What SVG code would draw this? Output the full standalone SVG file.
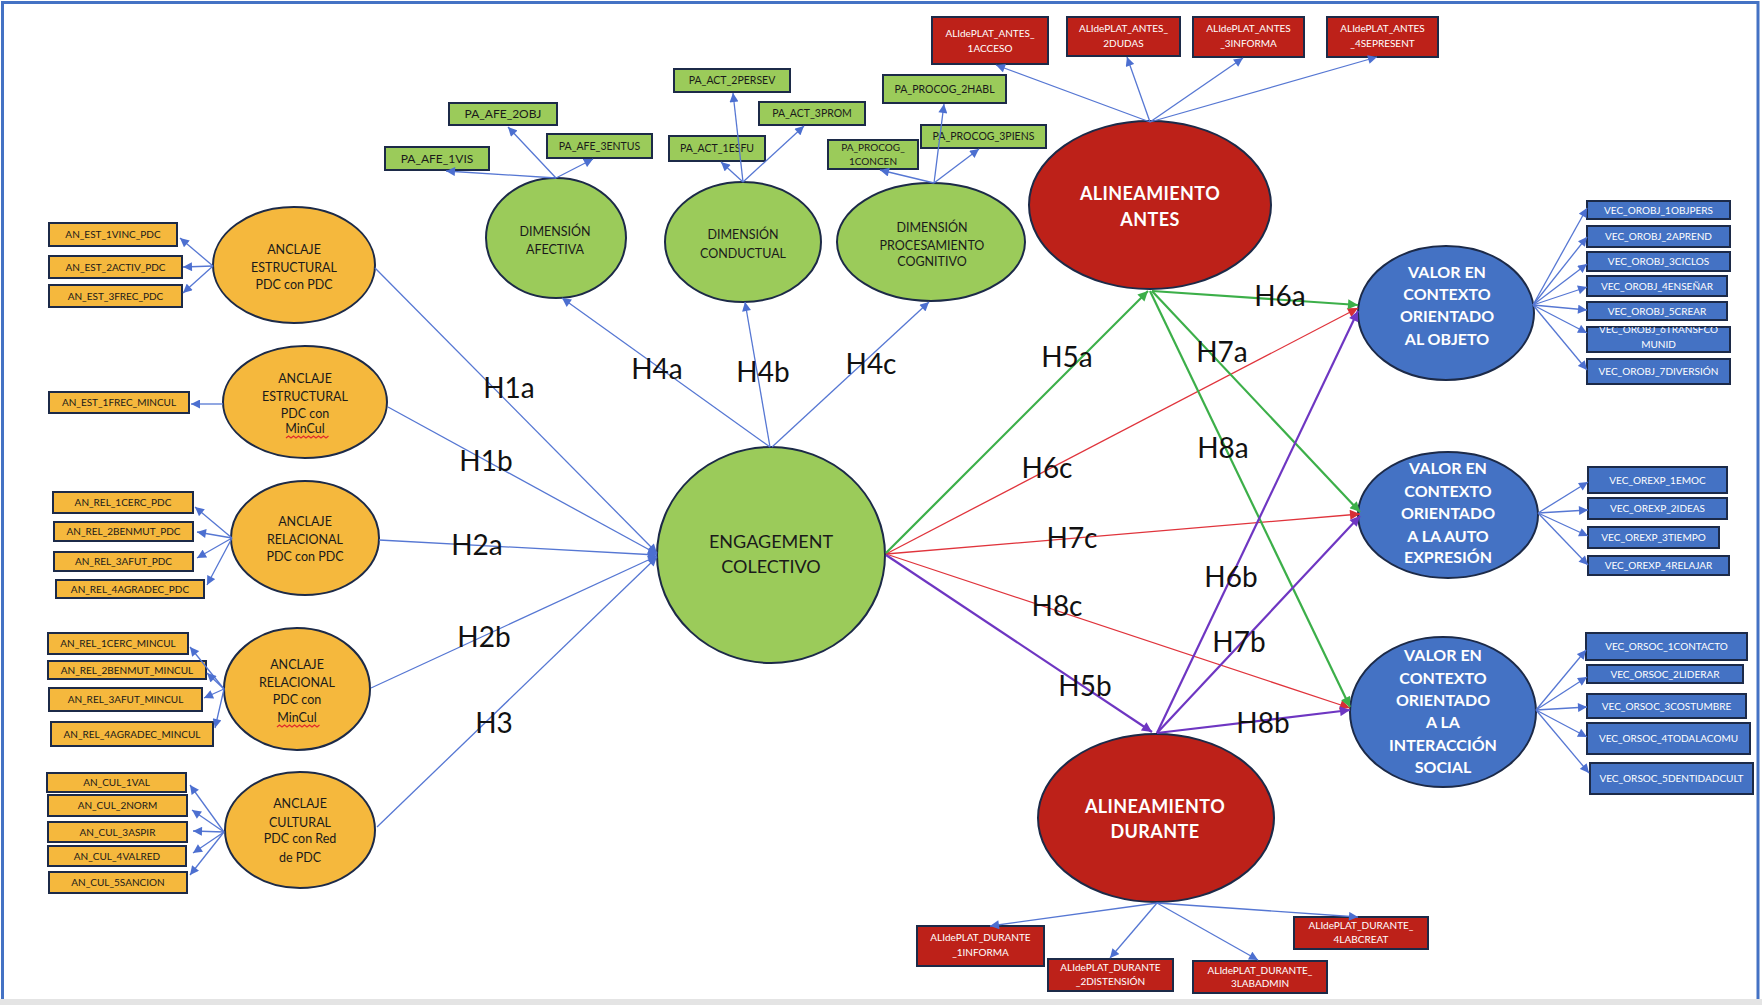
<svg xmlns="http://www.w3.org/2000/svg" width="1762" height="1005" viewBox="0 0 1762 1005">
<style>
.ob{fill:#F5B83D;stroke:#1C2A48;stroke-width:2}
.gb{fill:#9BCB5A;stroke:#1C2A48;stroke-width:2}
.rb{fill:#BD2119;stroke:#1C2A48;stroke-width:2}
.bb{fill:#4472C4;stroke:#1C2A48;stroke-width:2}
text{font-family:Lato,"Liberation Sans",sans-serif;text-anchor:middle}
.dk{fill:#1A1A1A}
.wt{fill:#FFFFFF}
.s10{font-size:10px}
.s105{font-size:10.5px}
.s12{font-size:12px}
.s125{font-size:12.5px}
.big{font-size:28px;fill:#111}
.alin{font-size:18px;font-weight:bold;fill:#fff;letter-spacing:0.4px}
.val{font-size:16px;font-weight:bold;fill:#fff}
.lb{stroke:#5677D3;stroke-width:1.3;fill:none}
.lg{stroke:#3CAF49;stroke-width:2.2;fill:none}
.lr{stroke:#E0343C;stroke-width:1.3;fill:none}
.lp{stroke:#6E36C2;stroke-width:2.2;fill:none}
.sq{stroke:#E02B2B;stroke-width:1.2;fill:none}
</style>
<defs>
<marker id="ab" viewBox="0 0 10 10" refX="10" refY="5" markerWidth="10" markerHeight="9" markerUnits="userSpaceOnUse" orient="auto"><path d="M0,0 L10,5 L0,10 z" fill="#4C6FD0"/></marker>
<marker id="ag" viewBox="0 0 10 10" refX="10" refY="5" markerWidth="12" markerHeight="10" markerUnits="userSpaceOnUse" orient="auto"><path d="M0,0 L10,5 L0,10 z" fill="#3CAF49"/></marker>
<marker id="ar" viewBox="0 0 10 10" refX="10" refY="5" markerWidth="12" markerHeight="10" markerUnits="userSpaceOnUse" orient="auto"><path d="M0,0 L10,5 L0,10 z" fill="#D62E36"/></marker>
<marker id="ap" viewBox="0 0 10 10" refX="10" refY="5" markerWidth="12" markerHeight="10" markerUnits="userSpaceOnUse" orient="auto"><path d="M0,0 L10,5 L0,10 z" fill="#6E36C2"/></marker>
<clipPath id="c6"><rect x="1587" y="327" width="143" height="25"/></clipPath>
</defs>
<rect x="0" y="0" width="1762" height="1005" fill="#FFFFFF"/>
<path d="M2.5,1000 V2.5 H1758 V1000" fill="none" stroke="#4472C4" stroke-width="3"/>
<rect x="0" y="999" width="1762" height="6" fill="#E4E4E4"/>

<!-- Anclaje nodes -->
<g id="anclaje-est-pdc">
<ellipse class="ob" cx="294" cy="265" rx="81" ry="58"/>
<text class="dk s125" x="294" y="253.5">ANCLAJE</text>
<text class="dk s125" x="294" y="271.5">ESTRUCTURAL</text>
<text class="dk s125" x="294" y="288.5">PDC con PDC</text>
</g>
<g id="anclaje-est-mincul">
<ellipse class="ob" cx="305" cy="402" rx="82" ry="56"/>
<text class="dk s125" x="305" y="382.5">ANCLAJE</text>
<text class="dk s125" x="305" y="400.5">ESTRUCTURAL</text>
<text class="dk s125" x="305" y="417.5">PDC con</text>
<text class="dk s125" x="305" y="433">MinCul</text>
<path class="sq" d="M286,438 l2.5,-2 l2.5,2 l2.5,-2 l2.5,2 l2.5,-2 l2.5,2 l2.5,-2 l2.5,2 l2.5,-2 l2.5,2 l2.5,-2 l2.5,2 l2.5,-2 l2.5,2 l2.5,-2 l2.5,2 l2.5,-2"/>
</g>
<g id="anclaje-rel-pdc">
<ellipse class="ob" cx="305" cy="538" rx="74" ry="57"/>
<text class="dk s125" x="305" y="525.5">ANCLAJE</text>
<text class="dk s125" x="305" y="543.5">RELACIONAL</text>
<text class="dk s125" x="305" y="560.5">PDC con PDC</text>
</g>
<g id="anclaje-rel-mincul">
<ellipse class="ob" cx="297" cy="689" rx="73" ry="61"/>
<text class="dk s125" x="297" y="668.5">ANCLAJE</text>
<text class="dk s125" x="297" y="686.5">RELACIONAL</text>
<text class="dk s125" x="297" y="703.5">PDC con</text>
<text class="dk s125" x="297" y="721.5">MinCul</text>
<path class="sq" d="M277,727 l2.5,-2 l2.5,2 l2.5,-2 l2.5,2 l2.5,-2 l2.5,2 l2.5,-2 l2.5,2 l2.5,-2 l2.5,2 l2.5,-2 l2.5,2 l2.5,-2 l2.5,2 l2.5,-2 l2.5,2 l2.5,-2"/>
</g>
<g id="anclaje-cultural">
<ellipse class="ob" cx="300" cy="830" rx="75" ry="58"/>
<text class="dk s125" x="300" y="807.5">ANCLAJE</text>
<text class="dk s125" x="300" y="826.5">CULTURAL</text>
<text class="dk s125" x="300" y="842.5">PDC con Red</text>
<text class="dk s125" x="300" y="861.5">de PDC</text>
</g>

<!-- Orange indicator boxes -->
<g id="an-est-1vinc-pdc"><rect class="ob" x="49" y="223" width="128" height="23"/><text class="dk s10" x="113" y="238">AN_EST_1VINC_PDC</text></g>
<g id="an-est-2activ-pdc"><rect class="ob" x="49" y="256" width="133" height="22"/><text class="dk s10" x="115.5" y="270.5">AN_EST_2ACTIV_PDC</text></g>
<g id="an-est-3frec-pdc"><rect class="ob" x="49" y="285" width="133" height="22"/><text class="dk s10" x="115.5" y="299.5">AN_EST_3FREC_PDC</text></g>
<g id="an-est-1frec-mincul"><rect class="ob" x="49" y="392" width="140" height="21"/><text class="dk s10" x="119" y="406">AN_EST_1FREC_MINCUL</text></g>
<g id="an-rel-1cerc-pdc"><rect class="ob" x="53" y="492" width="140" height="21"/><text class="dk s10" x="123" y="506">AN_REL_1CERC_PDC</text></g>
<g id="an-rel-2benmut-pdc"><rect class="ob" x="54" y="522" width="139" height="19"/><text class="dk s10" x="123.5" y="535">AN_REL_2BENMUT_PDC</text></g>
<g id="an-rel-3afut-pdc"><rect class="ob" x="54" y="552" width="139" height="19"/><text class="dk s10" x="123.5" y="565">AN_REL_3AFUT_PDC</text></g>
<g id="an-rel-4agradec-pdc"><rect class="ob" x="56" y="580" width="148" height="18"/><text class="dk s10" x="130" y="592.5">AN_REL_4AGRADEC_PDC</text></g>
<g id="an-rel-1cerc-mincul"><rect class="ob" x="48" y="633" width="140" height="21"/><text class="dk s10" x="118" y="647">AN_REL_1CERC_MINCUL</text></g>
<g id="an-rel-2benmut-mincul"><rect class="ob" x="48" y="661" width="158" height="18"/><text class="dk s10" x="127" y="673.5">AN_REL_2BENMUT_MINCUL</text></g>
<g id="an-rel-3afut-mincul"><rect class="ob" x="49" y="688" width="153" height="23"/><text class="dk s10" x="125.5" y="703">AN_REL_3AFUT_MINCUL</text></g>
<g id="an-rel-4agradec-mincul"><rect class="ob" x="51" y="722" width="162" height="24"/><text class="dk s10" x="132" y="737.5">AN_REL_4AGRADEC_MINCUL</text></g>
<g id="an-cul-1val"><rect class="ob" x="47" y="773" width="139" height="19"/><text class="dk s10" x="116.5" y="786">AN_CUL_1VAL</text></g>
<g id="an-cul-2norm"><rect class="ob" x="48" y="795" width="139" height="21"/><text class="dk s10" x="117.5" y="809">AN_CUL_2NORM</text></g>
<g id="an-cul-3aspir"><rect class="ob" x="48" y="822" width="139" height="20"/><text class="dk s10" x="117.5" y="835.5">AN_CUL_3ASPIR</text></g>
<g id="an-cul-4valred"><rect class="ob" x="48" y="846" width="138" height="20"/><text class="dk s10" x="117" y="859.5">AN_CUL_4VALRED</text></g>
<g id="an-cul-5sancion"><rect class="ob" x="49" y="872" width="138" height="21"/><text class="dk s10" x="118" y="886">AN_CUL_5SANCION</text></g>

<!-- Dimension nodes -->
<g id="dim-afectiva">
<ellipse class="gb" cx="556" cy="238" rx="70" ry="60"/>
<text class="dk s125" x="555" y="235.5">DIMENSIÓN</text>
<text class="dk s125" x="555" y="253.5">AFECTIVA</text>
</g>
<g id="dim-conductual">
<ellipse class="gb" cx="743" cy="242" rx="78" ry="60"/>
<text class="dk s125" x="743" y="238.5">DIMENSIÓN</text>
<text class="dk s125" x="743" y="257.5">CONDUCTUAL</text>
</g>
<g id="dim-procog">
<ellipse class="gb" cx="931" cy="242" rx="94" ry="59"/>
<text class="dk s125" x="932" y="231.5">DIMENSIÓN</text>
<text class="dk s125" x="932" y="249.5">PROCESAMIENTO</text>
<text class="dk s125" x="932" y="265.5">COGNITIVO</text>
</g>

<!-- Green indicator boxes -->
<g id="pa-afe-1vis"><rect class="gb" x="385" y="147" width="104" height="23"/><text class="dk s12" x="437" y="162.5">PA_AFE_1VIS</text></g>
<g id="pa-afe-2obj"><rect class="gb" x="449" y="103" width="108" height="22"/><text class="dk s12" x="503" y="118">PA_AFE_2OBJ</text></g>
<g id="pa-afe-3entus"><rect class="gb" x="547" y="134" width="105" height="24"/><text class="dk s105" x="599.5" y="149.5">PA_AFE_3ENTUS</text></g>
<g id="pa-act-2persev"><rect class="gb" x="674" y="69" width="116" height="23"/><text class="dk s105" x="732" y="84">PA_ACT_2PERSEV</text></g>
<g id="pa-act-3prom"><rect class="gb" x="759" y="102" width="106" height="23"/><text class="dk s105" x="812" y="117">PA_ACT_3PROM</text></g>
<g id="pa-act-1esfu"><rect class="gb" x="669" y="136" width="96" height="25"/><text class="dk s105" x="717" y="152">PA_ACT_1ESFU</text></g>
<g id="pa-procog-2habl"><rect class="gb" x="883" y="75" width="123" height="28"/><text class="dk s105" x="944.5" y="92.5">PA_PROCOG_2HABL</text></g>
<g id="pa-procog-3piens"><rect class="gb" x="921" y="125" width="125" height="23"/><text class="dk s105" x="983.5" y="140">PA_PROCOG_3PIENS</text></g>
<g id="pa-procog-1concen"><rect class="gb" x="828" y="140" width="90" height="29"/><text class="dk s10" x="873" y="151">PA_PROCOG_</text><text class="dk s10" x="873" y="165">1CONCEN</text></g>

<!-- Engagement -->
<g id="engagement">
<ellipse class="gb" cx="771" cy="555" rx="114" ry="108"/>
<text class="dk" style="font-size:18px" x="771" y="548">ENGAGEMENT</text>
<text class="dk" style="font-size:18px" x="771" y="573">COLECTIVO</text>
</g>

<!-- Alineamiento -->
<g id="alineamiento-antes">
<ellipse class="rb" cx="1150" cy="205" rx="121" ry="84"/>
<text class="alin" x="1150" y="199.5">ALINEAMIENTO</text>
<text class="alin" x="1150" y="225.5">ANTES</text>
</g>
<g id="alineamiento-durante">
<ellipse class="rb" cx="1156" cy="818" rx="118" ry="84"/>
<text class="alin" x="1155" y="812.5">ALINEAMIENTO</text>
<text class="alin" x="1155" y="837.5">DURANTE</text>
</g>

<!-- Red boxes -->
<g id="ali-antes-1acceso"><rect class="rb" x="932" y="17" width="116" height="47"/><text class="wt s10" x="990" y="36.5">ALIdePLAT_ANTES_</text><text class="wt s10" x="990" y="51.5">1ACCESO</text></g>
<g id="ali-antes-2dudas"><rect class="rb" x="1067" y="17" width="113" height="39"/><text class="wt s10" x="1123.5" y="31.5">ALIdePLAT_ANTES_</text><text class="wt s10" x="1123.5" y="46.5">2DUDAS</text></g>
<g id="ali-antes-3informa"><rect class="rb" x="1193" y="17" width="111" height="40"/><text class="wt s10" x="1248.5" y="31.5">ALIdePLAT_ANTES</text><text class="wt s10" x="1248.5" y="46.5">_3INFORMA</text></g>
<g id="ali-antes-4sepresent"><rect class="rb" x="1327" y="17" width="111" height="40"/><text class="wt s10" x="1382.5" y="31.5">ALIdePLAT_ANTES</text><text class="wt s10" x="1382.5" y="46.5">_4SEPRESENT</text></g>
<g id="ali-durante-1informa"><rect class="rb" x="917" y="926" width="127" height="40"/><text class="wt s10" x="980.5" y="940.5">ALIdePLAT_DURANTE</text><text class="wt s10" x="980.5" y="955.5">_1INFORMA</text></g>
<g id="ali-durante-2distension"><rect class="rb" x="1048" y="959" width="125" height="32"/><text class="wt s10" x="1110.5" y="970.5">ALIdePLAT_DURANTE</text><text class="wt s10" x="1110.5" y="984.5">_2DISTENSIÓN</text></g>
<g id="ali-durante-3labadmin"><rect class="rb" x="1193" y="961" width="134" height="32"/><text class="wt s10" x="1260" y="973.5">ALIdePLAT_DURANTE_</text><text class="wt s10" x="1260" y="986.5">3LABADMIN</text></g>
<g id="ali-durante-4labcreat"><rect class="rb" x="1294" y="917" width="134" height="32"/><text class="wt s10" x="1361" y="928.5">ALIdePLAT_DURANTE_</text><text class="wt s10" x="1361" y="942.5">4LABCREAT</text></g>

<!-- Valor nodes -->
<g id="valor-objeto">
<ellipse class="bb" cx="1446" cy="313" rx="88" ry="67"/>
<text class="val" x="1447" y="278">VALOR EN</text>
<text class="val" x="1447" y="300">CONTEXTO</text>
<text class="val" x="1447" y="322">ORIENTADO</text>
<text class="val" x="1447" y="345">AL OBJETO</text>
</g>
<g id="valor-autoexpresion">
<ellipse class="bb" cx="1448" cy="515" rx="90" ry="63"/>
<text class="val" x="1448" y="474">VALOR EN</text>
<text class="val" x="1448" y="497">CONTEXTO</text>
<text class="val" x="1448" y="519">ORIENTADO</text>
<text class="val" x="1448" y="542">A LA AUTO</text>
<text class="val" x="1448" y="563">EXPRESIÓN</text>
</g>
<g id="valor-social">
<ellipse class="bb" cx="1443" cy="712" rx="93" ry="75"/>
<text class="val" x="1443" y="661">VALOR EN</text>
<text class="val" x="1443" y="684">CONTEXTO</text>
<text class="val" x="1443" y="706">ORIENTADO</text>
<text class="val" x="1443" y="728">A LA</text>
<text class="val" x="1443" y="751">INTERACCIÓN</text>
<text class="val" x="1443" y="773">SOCIAL</text>
</g>

<!-- Blue boxes -->
<g id="vec-orobj-1"><rect class="bb" x="1587" y="201" width="143" height="18"/><text class="wt s10" x="1658.5" y="213.5">VEC_OROBJ_1OBJPERS</text></g>
<g id="vec-orobj-2"><rect class="bb" x="1587" y="226" width="143" height="21"/><text class="wt s10" x="1658.5" y="240">VEC_OROBJ_2APREND</text></g>
<g id="vec-orobj-3"><rect class="bb" x="1587" y="252" width="143" height="19"/><text class="wt s10" x="1658.5" y="265">VEC_OROBJ_3CICLOS</text></g>
<g id="vec-orobj-4"><rect class="bb" x="1587" y="276" width="140" height="20"/><text class="wt s10" x="1657" y="289.5">VEC_OROBJ_4ENSEÑAR</text></g>
<g id="vec-orobj-5"><rect class="bb" x="1587" y="302" width="140" height="18"/><text class="wt s10" x="1657" y="314.5">VEC_OROBJ_5CREAR</text></g>
<g id="vec-orobj-6"><rect class="bb" x="1587" y="327" width="143" height="25"/><g clip-path="url(#c6)"><text class="wt s10" x="1658.5" y="333">VEC_OROBJ_6TRANSFCO</text></g><text class="wt s10" x="1658.5" y="347.5">MUNID</text></g>
<g id="vec-orobj-7"><rect class="bb" x="1587" y="359" width="143" height="25"/><text class="wt s10" x="1658.5" y="375">VEC_OROBJ_7DIVERSIÓN</text></g>
<g id="vec-orexp-1"><rect class="bb" x="1588" y="467" width="139" height="26"/><text class="wt s10" x="1657.5" y="483.5">VEC_OREXP_1EMOC</text></g>
<g id="vec-orexp-2"><rect class="bb" x="1588" y="498" width="139" height="21"/><text class="wt s10" x="1657.5" y="512">VEC_OREXP_2IDEAS</text></g>
<g id="vec-orexp-3"><rect class="bb" x="1588" y="527" width="131" height="21"/><text class="wt s10" x="1653.5" y="541">VEC_OREXP_3TIEMPO</text></g>
<g id="vec-orexp-4"><rect class="bb" x="1588" y="556" width="141" height="19"/><text class="wt s10" x="1658.5" y="569">VEC_OREXP_4RELAJAR</text></g>
<g id="vec-orsoc-1"><rect class="bb" x="1586" y="633" width="161" height="27"/><text class="wt s10" x="1666.5" y="650">VEC_ORSOC_1CONTACTO</text></g>
<g id="vec-orsoc-2"><rect class="bb" x="1587" y="665" width="156" height="18"/><text class="wt s10" x="1665" y="677.5">VEC_ORSOC_2LIDERAR</text></g>
<g id="vec-orsoc-3"><rect class="bb" x="1587" y="694" width="159" height="24"/><text class="wt s10" x="1666.5" y="709.5">VEC_ORSOC_3COSTUMBRE</text></g>
<g id="vec-orsoc-4"><rect class="bb" x="1587" y="723" width="163" height="31"/><text class="wt s10" x="1668.5" y="742">VEC_ORSOC_4TODALACOMU</text></g>
<g id="vec-orsoc-5"><rect class="bb" x="1590" y="763" width="163" height="31"/><text class="wt s10" x="1671.5" y="782">VEC_ORSOC_5DENTIDADCULT</text></g>

<!-- Connectors -->
<g id="connectors">
<g class="lb" marker-end="url(#ab)">
<line x1="213" y1="266" x2="180" y2="238"/>
<line x1="213" y1="266" x2="183" y2="267"/>
<line x1="213" y1="266" x2="183" y2="293"/>
<line x1="223" y1="404" x2="191" y2="404"/>
<line x1="232" y1="538" x2="195" y2="507"/>
<line x1="232" y1="538" x2="197" y2="532"/>
<line x1="232" y1="538" x2="197" y2="558"/>
<line x1="232" y1="538" x2="207" y2="585"/>
<line x1="224" y1="689" x2="190" y2="647"/>
<line x1="224" y1="689" x2="207" y2="673"/>
<line x1="224" y1="689" x2="204" y2="698"/>
<line x1="224" y1="689" x2="215" y2="728"/>
<line x1="224" y1="832" x2="190" y2="785"/>
<line x1="224" y1="832" x2="192" y2="810"/>
<line x1="224" y1="832" x2="193" y2="831"/>
<line x1="224" y1="832" x2="193" y2="853"/>
<line x1="224" y1="832" x2="190" y2="875"/>
<line x1="375" y1="268" x2="657" y2="553"/>
<line x1="388" y1="407" x2="657" y2="554"/>
<line x1="379" y1="540" x2="657" y2="555"/>
<line x1="371" y1="688" x2="657" y2="556"/>
<line x1="377" y1="827" x2="657" y2="557"/>
<line x1="770" y1="447" x2="562" y2="298"/>
<line x1="770" y1="447" x2="745" y2="302"/>
<line x1="772" y1="447" x2="929" y2="302"/>
<line x1="556" y1="178" x2="446" y2="171"/>
<line x1="556" y1="178" x2="508" y2="127"/>
<line x1="556" y1="178" x2="593" y2="159"/>
<line x1="743" y1="182" x2="733" y2="93"/>
<line x1="743" y1="182" x2="804" y2="126"/>
<line x1="743" y1="182" x2="721" y2="162"/>
<line x1="934" y1="183" x2="944" y2="104"/>
<line x1="934" y1="183" x2="979" y2="149"/>
<line x1="934" y1="183" x2="880" y2="170"/>
<line x1="1150" y1="122" x2="996" y2="65"/>
<line x1="1150" y1="122" x2="1127" y2="57"/>
<line x1="1150" y1="122" x2="1243" y2="58"/>
<line x1="1150" y1="122" x2="1377" y2="57"/>
<line x1="1157" y1="903" x2="990" y2="926"/>
<line x1="1157" y1="903" x2="1110" y2="958"/>
<line x1="1157" y1="903" x2="1258" y2="960"/>
<line x1="1157" y1="903" x2="1358" y2="917"/>
<line x1="1533" y1="305" x2="1587" y2="208"/>
<line x1="1533" y1="305" x2="1587" y2="237"/>
<line x1="1533" y1="305" x2="1587" y2="264"/>
<line x1="1533" y1="305" x2="1587" y2="287"/>
<line x1="1533" y1="305" x2="1587" y2="310"/>
<line x1="1533" y1="305" x2="1587" y2="333"/>
<line x1="1533" y1="305" x2="1587" y2="370"/>
<line x1="1538" y1="513" x2="1588" y2="482"/>
<line x1="1538" y1="513" x2="1588" y2="510"/>
<line x1="1538" y1="513" x2="1588" y2="536"/>
<line x1="1538" y1="513" x2="1588" y2="565"/>
<line x1="1536" y1="710" x2="1586" y2="650"/>
<line x1="1536" y1="710" x2="1587" y2="677"/>
<line x1="1536" y1="710" x2="1587" y2="707"/>
<line x1="1536" y1="710" x2="1587" y2="737"/>
<line x1="1536" y1="710" x2="1589" y2="773"/>
</g>
<g class="lr" marker-end="url(#ar)">
<line x1="886" y1="554" x2="1358" y2="308"/>
<line x1="886" y1="554" x2="1360" y2="514"/>
<line x1="886" y1="554" x2="1350" y2="708"/>
</g>
<g class="lg" marker-end="url(#ag)">
<line x1="886" y1="553" x2="1148" y2="291"/>
<line x1="1152" y1="291" x2="1358" y2="305"/>
<line x1="1152" y1="291" x2="1360" y2="512"/>
<line x1="1150" y1="291" x2="1350" y2="707"/>
</g>
<g class="lp" marker-end="url(#ap)">
<line x1="886" y1="555" x2="1152" y2="732"/>
<line x1="1157" y1="733" x2="1358" y2="311"/>
<line x1="1157" y1="733" x2="1360" y2="516"/>
<line x1="1157" y1="733" x2="1350" y2="710"/>
</g>
</g>

<!-- Hypothesis labels -->
<g id="labels">
<text class="big" x="509" y="398">H1a</text>
<text class="big" x="486" y="471">H1b</text>
<text class="big" x="477" y="555">H2a</text>
<text class="big" x="484" y="647">H2b</text>
<text class="big" x="494" y="733">H3</text>
<text class="big" x="657" y="379">H4a</text>
<text class="big" x="763" y="382">H4b</text>
<text class="big" x="871" y="374">H4c</text>
<text class="big" x="1067" y="367">H5a</text>
<text class="big" x="1280" y="306">H6a</text>
<text class="big" x="1222" y="362">H7a</text>
<text class="big" x="1223" y="458">H8a</text>
<text class="big" x="1047" y="478">H6c</text>
<text class="big" x="1072" y="548">H7c</text>
<text class="big" x="1231" y="587">H6b</text>
<text class="big" x="1057" y="616">H8c</text>
<text class="big" x="1239" y="652">H7b</text>
<text class="big" x="1085" y="696">H5b</text>
<text class="big" x="1263" y="733">H8b</text>
</g>
</svg>
